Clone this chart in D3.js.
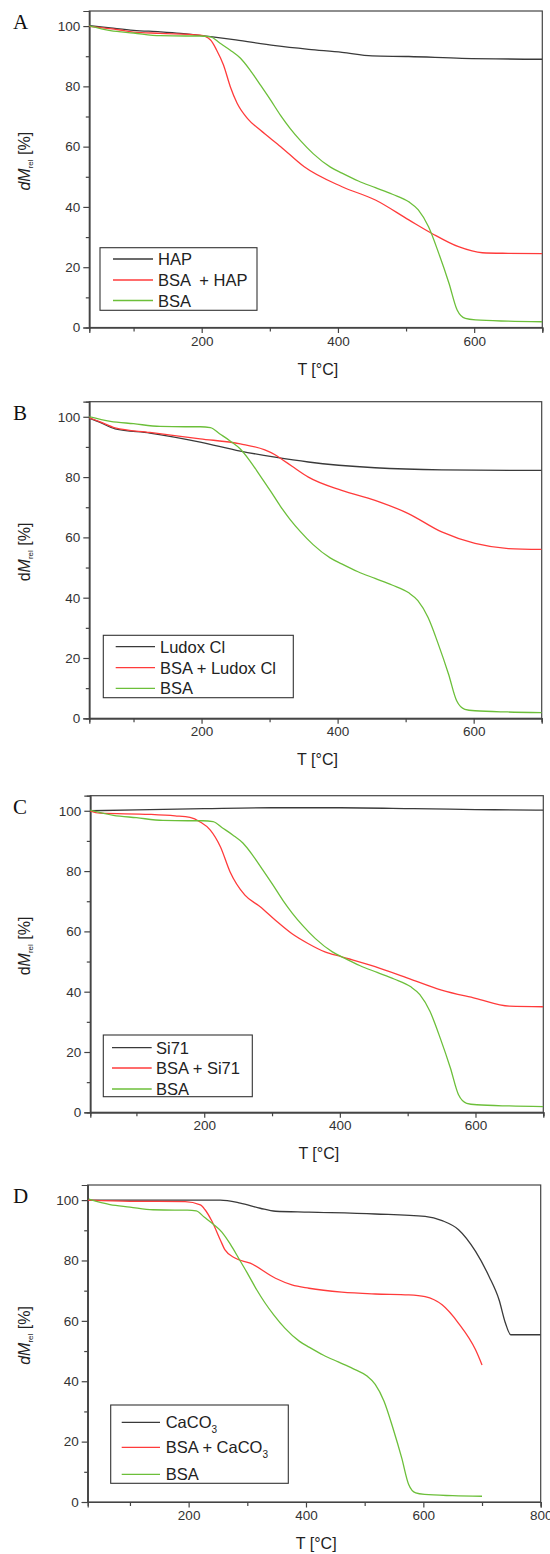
<!DOCTYPE html>
<html>
<head>
<meta charset="utf-8">
<script src="https://cdn.jsdelivr.net/npm/d3@7"></script>
<style>
  body { margin: 0; background: #fff; }
  svg { display: block; font-family: "Liberation Sans", Arial, sans-serif; }
</style>
</head>
<body>
<svg id="main_svg" width="550" height="1554"></svg>
<script>
// BSA curve, same in all four panels
const bsaT = [30, 66, 100, 139, 176, 198, 213, 227, 242, 257, 271, 286, 301, 316, 330, 345, 364, 389, 406, 430, 455, 480, 504, 518, 533, 548, 563, 575, 587, 602, 650, 700];
const bsaM = [100.3, 98.5, 97.7, 96.8, 96.7, 96.7, 96.4, 94.3, 92, 89.3, 85.4, 80.5, 75.5, 70.3, 66, 62, 57.6, 53.2, 51.2, 48.6, 46.4, 44.2, 41.7, 39, 33.4, 24.6, 14.7, 5.8, 3, 2.5, 2.1, 1.9];

// A
const hapT = [30, 66, 100, 139, 169, 213, 250, 308, 357, 406, 450, 504, 582, 700];
const hapM = [100.3, 99.4, 98.6, 98.1, 97.6, 96.5, 95.4, 93.5, 92.3, 91.3, 90.1, 89.9, 89.3, 89.0];
const bsaHapT = [30, 80, 100, 139, 198, 213, 222, 232, 242, 252, 267, 286, 316, 350, 406, 455, 504, 538, 577, 612, 650, 700];
const bsaHapM = [100, 98.7, 98, 97.6, 97, 95.4, 92, 87.1, 79.9, 74.4, 69.4, 65.5, 60, 53.4, 46.7, 42.3, 35.7, 31.2, 26.8, 24.8, 24.6, 24.5];

// B
const ludoxT = [30, 50, 73, 124, 198, 257, 308, 357, 455, 553, 700];
const ludoxM = [100, 98.2, 96, 94.6, 91.6, 88.6, 86.6, 85, 83.1, 82.4, 82.2];
const bsaLudoxT = [30, 50, 73, 124, 198, 257, 293, 308, 320, 333, 357, 406, 455, 504, 553, 602, 651, 700];
const bsaLudoxM = [100, 98.4, 96.3, 94.8, 92.7, 91, 89, 87.4, 85.6, 83.6, 80, 75.6, 72.3, 67.9, 61.8, 58, 56.3, 56];

// C
const si71T = [30, 100, 200, 300, 400, 509, 600, 700];
const si71M = [100, 100.3, 100.7, 101, 101, 100.7, 100.4, 100.2];
const bsaSi71T = [30, 46, 120, 157, 179, 194, 209, 224, 238, 260, 283, 305, 329, 353, 378, 402, 452, 501, 550, 600, 650, 700];
const bsaSi71M = [100, 99.2, 98.8, 98.3, 97.8, 96.3, 93.6, 88, 79.8, 72, 68.1, 63.7, 59.3, 56, 53.2, 51.6, 48.3, 44.4, 40.5, 37.8, 35.2, 35];

// D
const caco3T = [28, 100, 200, 254, 288, 322, 348, 405, 518, 603, 632, 660, 689, 712, 729, 740, 749, 800];
const caco3M = [100, 100, 100, 100, 99, 97.3, 96.3, 96, 95.4, 94.6, 93.2, 90.2, 83, 74.7, 67, 59.2, 55.4, 55.4];
const bsaCaco3T = [28, 100, 194, 220, 228, 240, 254, 262, 279, 305, 348, 376, 405, 461, 518, 575, 603, 632, 660, 689, 700];
const bsaCaco3M = [100, 99.6, 99.5, 98.4, 96.8, 92.9, 86.8, 83.5, 80.8, 79.1, 74.1, 71.9, 70.8, 69.5, 68.9, 68.6, 68, 65.3, 59.2, 50.4, 45.4];

const yMajor = [0, 20, 40, 60, 80, 100];
const yMinor = [10, 30, 50, 70, 90];

const colors = { black: "#3a3a3a", red: "#ff3b3b", green: "#6cbf3a" };

const zip = (t, m) => t.map((v, i) => ({ t: v, m: m[i] }));

const panels = [
  { letter: "A", box: [89.3, 542.3, 11, 327.5], xDom: [35, 700], xMajor: [200, 400, 600], xMinor: [100, 300, 500, 700], dItalic: true,
    legendBox: [100, 247.7, 157, 62.6], rowY: [259, 280, 300.5], lineX: [113, 153], textX: 158,
    series: [
      { label: ["HAP"], color: colors.black, data: zip(hapT, hapM) },
      { label: ["BSA  + HAP"], color: colors.red, data: zip(bsaHapT, bsaHapM) },
      { label: ["BSA"], color: colors.green, data: zip(bsaT, bsaM) }
    ] },
  { letter: "B", box: [89.3, 541.7, 401.7, 718.3], xDom: [35, 700], xMajor: [200, 400, 600], xMinor: [100, 300, 500, 700], dItalic: false,
    legendBox: [103.3, 635.3, 190, 62.4], rowY: [646.7, 667.7, 688.3], lineX: [115.7, 155], textX: 160,
    series: [
      { label: ["Ludox Cl"], color: colors.black, data: zip(ludoxT, ludoxM) },
      { label: ["BSA + Ludox Cl"], color: colors.red, data: zip(bsaLudoxT, bsaLudoxM) },
      { label: ["BSA"], color: colors.green, data: zip(bsaT, bsaM) }
    ] },
  { letter: "C", box: [90.3, 543.3, 795.7, 1112.3], xDom: [32, 700], xMajor: [200, 400, 600], xMinor: [100, 300, 500, 700], dItalic: false,
    legendBox: [103.3, 1035, 149, 61.7], rowY: [1047.7, 1068, 1089], lineX: [112, 151.7], textX: 156,
    series: [
      { label: ["Si71"], color: colors.black, data: zip(si71T, si71M) },
      { label: ["BSA + Si71"], color: colors.red, data: zip(bsaSi71T, bsaSi71M) },
      { label: ["BSA"], color: colors.green, data: zip(bsaT, bsaM) }
    ] },
  { letter: "D", box: [87.7, 540.7, 1185, 1502], xDom: [28, 800], xMajor: [200, 400, 600, 800], xMinor: [100, 300, 500, 700], dItalic: true,
    legendBox: [110.7, 1405, 177.6, 78.3], rowY: [1422.3, 1447.3, 1474.3], lineX: [121.7, 160], textX: 165.7,
    series: [
      { label: ["CaCO", "3"], color: colors.black, data: zip(caco3T, caco3M) },
      { label: ["BSA + CaCO", "3"], color: colors.red, data: zip(bsaCaco3T, bsaCaco3M) },
      { label: ["BSA"], color: colors.green, data: zip(bsaT, bsaM) }
    ] }
];

const svg = d3.select("#main_svg");
const axisColor = "#444";
const textColor = "#333";

panels.forEach((p, pi) => {
  const [left, right, top, bottom] = p.box;
  const x = d3.scaleLinear().domain(p.xDom).range([left, right]);
  const y = d3.scaleLinear().domain([0, 105]).range([bottom, top]);
  const g = svg.append("g").attr("class", "panel");

  g.append("clipPath").attr("id", "clip" + pi)
    .append("rect").attr("x", left).attr("y", top).attr("width", right - left).attr("height", bottom - top);

  // frame
  g.append("rect").attr("x", left).attr("y", top).attr("width", right - left).attr("height", bottom - top)
    .attr("fill", "none").attr("stroke", axisColor).attr("stroke-width", 1.2);

  // axes, major + minor
  g.append("g").attr("transform", "translate(0," + bottom + ")")
    .call(d3.axisBottom(x).tickValues(p.xMajor).tickSize(5.5).tickPadding(3).tickFormat(d3.format("d")));
  g.append("g").attr("transform", "translate(0," + bottom + ")")
    .call(d3.axisBottom(x).tickValues(p.xMinor).tickSize(4).tickFormat(""));
  g.append("g").attr("transform", "translate(" + left + ",0)")
    .call(d3.axisLeft(y).tickValues(yMajor).tickSize(6).tickPadding(3));
  g.append("g").attr("transform", "translate(" + left + ",0)")
    .call(d3.axisLeft(y).tickValues(yMinor).tickSize(3.5).tickFormat(""));
  g.selectAll(".domain").attr("stroke", axisColor).attr("stroke-width", 1.2);
  g.selectAll(".tick line").attr("stroke", axisColor).attr("stroke-width", 1.2);
  g.selectAll(".tick text").attr("fill", textColor).style("font-size", "13.5px")
    .style("font-family", "'Liberation Sans', Arial, sans-serif");

  // curves
  const line = d3.line().x(d => x(d.t)).y(d => y(d.m)).curve(d3.curveMonotoneX);
  p.series.forEach(s => {
    g.append("path").datum(s.data).attr("d", line).attr("clip-path", "url(#clip" + pi + ")")
      .attr("fill", "none").attr("stroke", s.color).attr("stroke-width", 1.3);
  });

  // legend
  const [lx, ly, lw, lh] = p.legendBox;
  g.append("rect").attr("x", lx).attr("y", ly).attr("width", lw).attr("height", lh)
    .attr("fill", "#fff").attr("stroke", "#333").attr("stroke-width", 1.1);
  p.series.forEach((s, i) => {
    g.append("line").attr("x1", p.lineX[0]).attr("x2", p.lineX[1])
      .attr("y1", p.rowY[i]).attr("y2", p.rowY[i]).attr("stroke", s.color).attr("stroke-width", 1.3);
    const t = g.append("text").attr("x", p.textX).attr("y", p.rowY[i] + 6)
      .attr("fill", "#222").style("font-size", "16.5px").style("white-space", "pre");
    t.append("tspan").text(s.label[0]);
    if (s.label[1]) {
      t.append("tspan").attr("dy", 5).style("font-size", "10px").text(s.label[1]);
    }
  });

  // axis titles
  g.append("text").attr("x", (left + right) / 2 + 2).attr("y", bottom + 47)
    .attr("text-anchor", "middle").attr("fill", "#222").style("font-size", "16px").text("T [°C]");

  const yl = g.append("text")
    .attr("transform", "translate(30," + ((top + bottom) / 2 - 8) + ") rotate(-90)")
    .attr("text-anchor", "middle").attr("fill", "#222").style("font-size", "16px");
  yl.append("tspan").style("font-style", p.dItalic ? "italic" : "normal").text("d");
  yl.append("tspan").style("font-style", "italic").text("M");
  yl.append("tspan").attr("dy", 3).style("font-size", "8px").text("rel");
  yl.append("tspan").attr("dy", -3).text(" [%]");

  // panel letter
  g.append("text").attr("x", 13).attr("y", top + 18)
    .style("font-family", "'Liberation Serif', 'Times New Roman', serif").style("font-size", "21px")
    .attr("fill", "#111").text(p.letter);
});
</script>
</body>
</html>
